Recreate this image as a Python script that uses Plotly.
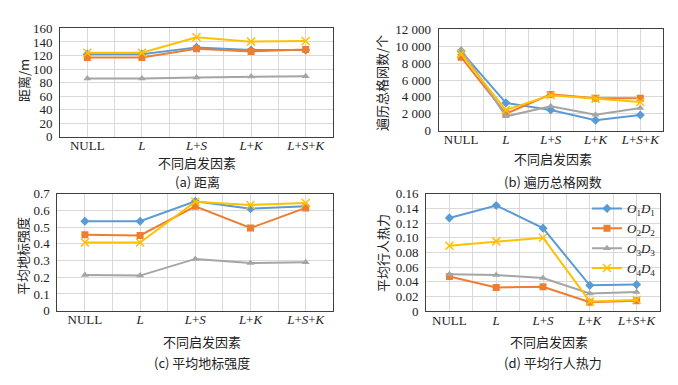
import plotly.graph_objects as go

W, H = 678, 385

categories = ["NULL", "L", "L+S", "L+K", "L+S+K"]
cat_labels = ["NULL", "<i>L</i>", "<i>L</i>+<i>S</i>", "<i>L</i>+<i>K</i>", "<i>L</i>+<i>S</i>+<i>K</i>"]
series_names = ["<i>O</i><sub>1</sub><i>D</i><sub>1</sub>", "<i>O</i><sub>2</sub><i>D</i><sub>2</sub>",
                "<i>O</i><sub>3</sub><i>D</i><sub>3</sub>", "<i>O</i><sub>4</sub><i>D</i><sub>4</sub>"]

# (a) distance / m
dist_O1 = [122, 122, 132, 128, 128]
dist_O2 = [117, 117, 130, 126, 129]
dist_O3 = [86, 86, 87.5, 89, 89.5]
dist_O4 = [124, 124, 147, 140.5, 141.5]

# (b) total traversed grid cells
grid_O1 = [9400, 3300, 2450, 1250, 1850]
grid_O2 = [8700, 2000, 4300, 3850, 3850]
grid_O3 = [9650, 1700, 2900, 1900, 2700]
grid_O4 = [9100, 2450, 4200, 3800, 3400]

# (c) average landmark strength
land_O1 = [0.535, 0.535, 0.655, 0.61, 0.625]
land_O2 = [0.455, 0.45, 0.625, 0.495, 0.615]
land_O3 = [0.213, 0.21, 0.31, 0.285, 0.29]
land_O4 = [0.408, 0.408, 0.652, 0.633, 0.645]

# (d) average pedestrian heat
heat_O1 = [0.127, 0.144, 0.113, 0.035, 0.036]
heat_O2 = [0.047, 0.032, 0.033, 0.012, 0.014]
heat_O3 = [0.050, 0.049, 0.045, 0.024, 0.026]
heat_O4 = [0.089, 0.095, 0.100, 0.013, 0.015]

ticks_a = [0, 20, 40, 60, 80, 100, 120, 140, 160]
ticks_b = [0, 2000, 4000, 6000, 8000, 10000, 12000]
ticks_c = [0, 0.1, 0.2, 0.3, 0.4, 0.5, 0.6, 0.7]
ticks_d = [0, 0.02, 0.04, 0.06, 0.08, 0.10, 0.12, 0.14, 0.16]
ticktext_b = [f"{v:,}".replace(",", " ") for v in ticks_b]
ticktext_c = ["0"] + [f"{v:.1f}" for v in ticks_c[1:]]
ticktext_d = ["0"] + [f"{v:.2f}" for v in ticks_d[1:]]

colors = ["#5B9BD5", "#ED7D31", "#A5A5A5", "#FFC000"]
symbols = ["diamond", "square", "triangle-up", "x-thin-open"]
msizes = [7, 7, 7, 8]

FONT = "Liberation Serif, Times New Roman, Noto Sans CJK SC, serif"
CJK = "Noto Sans CJK SC, Liberation Serif, serif"

def px_x(p):
    return p / W

def px_y(p):
    return 1 - p / H

panels = [
    ("x", "y", 60, 333, 22.3, 135, [dist_O1, dist_O2, dist_O3, dist_O4], 160, ticks_a, [str(v) for v in ticks_a]),
    ("x2", "y2", 438.7, 662.7, 23.3, 128.7, [grid_O1, grid_O2, grid_O3, grid_O4], 12000, ticks_b, ticktext_b),
    ("x3", "y3", 57.3, 333.3, 194.3, 316, [land_O1, land_O2, land_O3, land_O4], 0.7, ticks_c, ticktext_c),
    ("x4", "y4", 426, 660, 194.3, 316.3, [heat_O1, heat_O2, heat_O3, heat_O4], 0.16, ticks_d, ticktext_d),
]

fig = go.Figure()
xpos = list(range(len(categories)))
layout = {}
for pi, (xa, ya, x0, x1, yt, yb, data, ymax, tv, tt) in enumerate(panels):
    for si, vals in enumerate(data):
        fig.add_trace(go.Scatter(
            x=xpos, y=vals, xaxis=xa, yaxis=ya, mode="lines+markers",
            name=series_names[si], showlegend=(pi == 3),
            line=dict(color=colors[si], width=2),
            marker=dict(symbol=symbols[si], size=msizes[si], color=colors[si],
                        line=dict(color=colors[si], width=1.5 if si == 3 else 0)),
        ))
    xkey = "xaxis" if xa == "x" else "xaxis" + xa[1:]
    ykey = "yaxis" if ya == "y" else "yaxis" + ya[1:]
    layout[xkey] = dict(
        domain=[px_x(x0), px_x(x1)], anchor=ya, range=[-0.5, len(categories) - 0.5],
        tickmode="array", tickvals=xpos, ticktext=cat_labels,
        showgrid=True, gridcolor="#D9D9D9", gridwidth=1,
        minor=dict(tickmode="array", tickvals=[i - 0.5 for i in xpos] + [len(categories) - 0.5],
                   showgrid=True, gridcolor="#D9D9D9", gridwidth=1, ticks=""),
        showline=True, linecolor="#404040", linewidth=1, mirror=True,
        ticks="", zeroline=False, fixedrange=True, ticklabelstandoff=-3,
        tickfont=dict(family=FONT, size=13, color="#222"),
    )
    layout[ykey] = dict(
        domain=[px_y(yb), px_y(yt)], anchor=xa, range=[0, ymax],
        tickmode="array", tickvals=tv, ticktext=tt,
        showgrid=True, gridcolor="#D9D9D9", gridwidth=1,
        showline=True, linecolor="#404040", linewidth=1, mirror=True,
        ticks="", zeroline=False, ticklabelstandoff=4, fixedrange=True,
        tickfont=dict(family=FONT, size=13, color="#222"),
    )

annotations = []
def ann(text, x, y, angle=0, size=13):
    annotations.append(dict(text=text, x=px_x(x), y=px_y(y), xref="paper", yref="paper",
                            showarrow=False, textangle=angle, xanchor="center", yanchor="middle",
                            font=dict(family=CJK, size=size, color="#222")))

ann("不同启发因素", 197, 162)
ann("不同启发因素", 553, 158)
ann("不同启发因素", 202, 348)
ann("不同启发因素", 549, 348)
ann("(a) 距离", 197, 182)
ann("(b) 遍历总格网数", 553, 182)
ann("(c) 平均地标强度", 202, 370)
ann("(d) 平均行人热力", 553, 370)
ann("距离/m", 24, 77, -90)
ann("遍历总格网数/个", 382, 79, -90)
ann("平均地标强度", 23, 259, -90)
ann("平均行人热力", 382, 256, -90)

fig.update_layout(
    width=W, height=H, margin=dict(l=0, r=0, t=0, b=0),
    paper_bgcolor="white", plot_bgcolor="white",
    font=dict(family=FONT, size=13, color="#222"),
    annotations=annotations,
    legend=dict(x=px_x(661), y=px_y(194), xanchor="right", yanchor="top",
                bgcolor="rgba(0,0,0,0)", font=dict(family=FONT, size=13, color="#222"),
                tracegroupgap=0, itemwidth=30),
    **layout,
)

fig.write_html("out.html", config={"displayModeBar": False, "staticPlot": True},
               post_script="document.body.style.margin='0';document.body.style.overflow='hidden';")
